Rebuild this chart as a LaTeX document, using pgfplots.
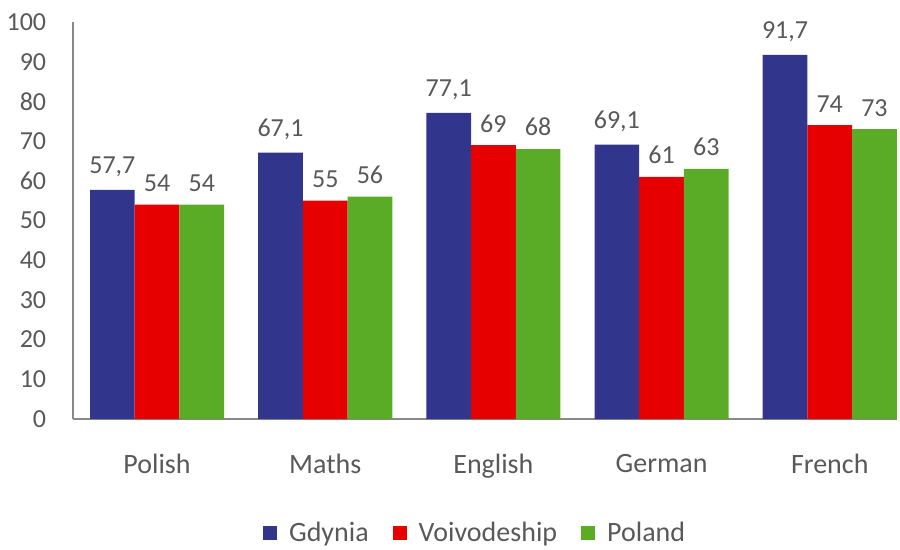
\documentclass[border=0pt]{standalone}
\usepackage{fontspec}
\setmainfont{Carlito}
\usepackage{pgfplots}
\pgfplotsset{compat=1.18}

\definecolor{gdynia}{RGB}{49,53,140}
\definecolor{voiv}{RGB}{230,0,0}
\definecolor{poland}{RGB}{90,172,38}
\definecolor{txt}{RGB}{89,89,89}
\definecolor{axln}{RGB}{137,137,137}

\begin{document}
\fontsize{26bp}{30bp}\selectfont
\begin{tikzpicture}
\path[use as bounding box] (-73bp,-131bp) rectangle (827bp,419bp);
\begin{axis}[
    at={(0,0)}, anchor=south west,
    scale only axis,
    width=824bp, height=397bp,
    ybar=0pt, bar width=44.7bp,
    xmin=-0.5, xmax=4.4,
    ymin=0, ymax=100,
    xtick={0,1,2,3,4},
    xticklabels={Polish,Maths,English,German,French},
    ytick={0,10,...,100},
    axis x line=bottom, axis y line=left,
    axis line style={draw=axln, line width=1.2bp, -},
    major tick length=0pt,
    tick style={draw=none},
    ticklabel style={text=txt, font=\fontsize{26bp}{30bp}\selectfont},
    xticklabel style={yshift=-26bp, font=\fontsize{28bp}{32bp}\selectfont},
    yticklabel style={xshift=-18bp},
    /pgf/number format/assume math mode=true,
    nodes near coords,
    /pgf/number format/use comma,
    every node near coord/.append style={text=txt, anchor=south, yshift=4bp,
        font=\fontsize{26bp}{30bp}\selectfont},
    legend style={draw=none, fill=none, legend columns=3,
        at={(0.488,-0.288)}, anchor=center, text=txt,
        font=\fontsize{28bp}{32bp}\selectfont,
        /tikz/every odd column/.append style={column sep=10bp},
        /tikz/every even column/.append style={column sep=22bp}},
    legend image code/.code={\fill[#1] (0bp,-7bp) rectangle (14bp,7bp);},
    clip=false,
]
\addplot[fill=gdynia, draw=none] coordinates {(0,57.7) (1,67.1) (2,77.1) (3,69.1) (4,91.7)};
\addlegendentry{Gdynia}
\addplot[fill=voiv, draw=none] coordinates {(0,54) (1,55) (2,69) (3,61) (4,74)};
\addlegendentry{Voivodeship}
\addplot[fill=poland, draw=none] coordinates {(0,54) (1,56) (2,68) (3,63) (4,73)};
\addlegendentry{Poland}
\end{axis}
\end{tikzpicture}
\end{document}
